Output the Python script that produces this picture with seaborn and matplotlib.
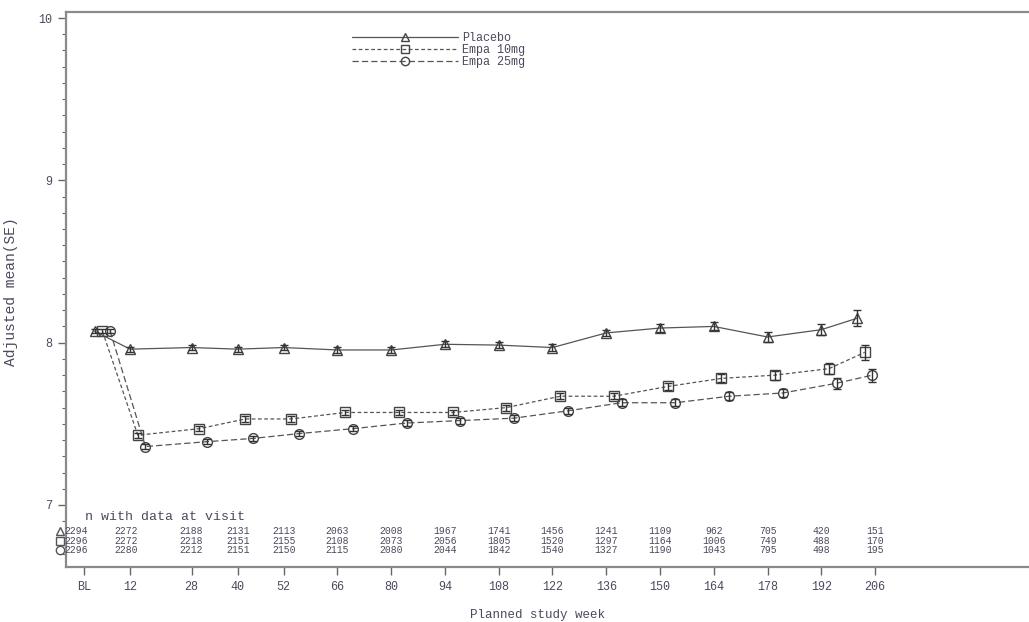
import numpy as np
import pandas as pd
import matplotlib
matplotlib.use("Agg")
import matplotlib.pyplot as plt
import matplotlib.transforms as mtransforms
from matplotlib.lines import Line2D
import seaborn as sns

# Planned visits (tick positions / labels) and mean study week at each visit
visit_weeks = [0, 12, 28, 40, 52, 66, 80, 94, 108, 122, 136, 150, 164, 178, 192, 206]
visit_labels = ["BL", "12", "28", "40", "52", "66", "80", "94", "108", "122",
                "136", "150", "164", "178", "192", "206"]
mean_weeks = [2.8, 12, 28, 40, 52, 66, 80, 94, 108, 122, 136, 150, 164, 178, 192, 201.3]

groups = ["Placebo", "Empa 10mg", "Empa 25mg"]

# Adjusted means
placebo_mean = [8.07, 7.96, 7.97, 7.96, 7.97, 7.955, 7.955, 7.99, 7.985, 7.97,
                8.06, 8.09, 8.10, 8.035, 8.08, 8.15]
empa10_mean = [8.07, 7.43, 7.47, 7.53, 7.53, 7.57, 7.57, 7.57, 7.60, 7.67,
               7.67, 7.73, 7.78, 7.80, 7.84, 7.94]
empa25_mean = [8.07, 7.36, 7.39, 7.41, 7.44, 7.47, 7.505, 7.52, 7.535, 7.58,
               7.63, 7.63, 7.67, 7.69, 7.75, 7.80]

# Standard errors
placebo_se = [0.012, 0.015, 0.016, 0.016, 0.016, 0.017, 0.017, 0.018, 0.018, 0.019,
              0.021, 0.023, 0.025, 0.028, 0.034, 0.050]
empa10_se = [0.012, 0.015, 0.016, 0.016, 0.016, 0.017, 0.017, 0.018, 0.018, 0.019,
             0.020, 0.022, 0.025, 0.027, 0.033, 0.045]
empa25_se = [0.012, 0.015, 0.016, 0.016, 0.016, 0.017, 0.017, 0.018, 0.018, 0.019,
             0.020, 0.022, 0.024, 0.026, 0.034, 0.040]

# Patients with data at visit
placebo_n = [2294, 2272, 2188, 2131, 2113, 2063, 2008, 1967, 1741, 1456, 1241, 1109, 962, 705, 420, 151]
empa10_n = [2296, 2272, 2218, 2151, 2155, 2108, 2073, 2056, 1805, 1520, 1297, 1164, 1006, 749, 488, 170]
empa25_n = [2296, 2280, 2212, 2151, 2150, 2115, 2080, 2044, 1842, 1540, 1327, 1190, 1043, 795, 498, 195]

means = [placebo_mean, empa10_mean, empa25_mean]
ses = [placebo_se, empa10_se, empa25_se]
counts = [placebo_n, empa10_n, empa25_n]

# horizontal dodge so the three treatment groups do not overlap
dodge = {"Placebo": 0.0, "Empa 10mg": 2.0, "Empa 25mg": 4.0}
markers = {"Placebo": "^", "Empa 10mg": "s", "Empa 25mg": "o"}
dashes = {"Placebo": "", "Empa 10mg": (3, 2), "Empa 25mg": (5, 2.5)}

rows = []
for g, m, s in zip(groups, means, ses):
    for wk, mv, sv in zip(mean_weeks, m, s):
        rows.append({"group": g, "week": wk + dodge[g], "mean": mv, "se": sv})
df = pd.DataFrame(rows)

sns.set_style("ticks")
plt.rcParams["font.family"] = ["Liberation Mono", "DejaVu Sans Mono"]
text_color = "#4a4a5e"
line_color = "#555555"

fig = plt.figure(figsize=(10.29, 6.22), dpi=100)
ax = fig.add_axes([66 / 1029, 1 - 567 / 622, 1 - 66 / 1029, (567 - 12) / 622])

sns.lineplot(data=df, x="week", y="mean", style="group", style_order=groups,
             markers=markers, dashes=dashes, color=line_color, linewidth=0.9,
             markersize=7, markerfacecolor="none", markeredgecolor="#444444",
             markeredgewidth=1.0, estimator=None, sort=False, legend=False, ax=ax)

for g in groups:
    sub = df[df["group"] == g]
    ax.errorbar(sub["week"], sub["mean"], yerr=sub["se"], fmt="none",
                ecolor="#333333", elinewidth=1.0, capsize=3, capthick=1.0)

ax.set_xlim(-4.7, 246.1)
ax.set_ylim(6.618, 10.037)

ax.set_xticks(visit_weeks)
ax.set_xticklabels(visit_labels)
ax.set_yticks([7, 8, 9, 10])
ax.set_yticklabels(["7", "8", "9", "10"])
ax.set_yticks(np.arange(6.7, 10.0, 0.1), minor=True)
ax.tick_params(axis="both", which="major", length=6, width=1, color="#666666",
               labelsize=8.5, labelcolor=text_color, pad=4)
ax.tick_params(axis="y", which="minor", length=3, width=0.8, color="#666666")

for side in ["left", "bottom", "top"]:
    ax.spines[side].set_color("#8a8a8a")
    ax.spines[side].set_linewidth(1.6)
ax.spines["right"].set_visible(False)

ax.set_xlabel("Planned study week", fontsize=9, color=text_color)
ax.set_ylabel("Adjusted mean(SE)", fontsize=10.5, color=text_color)
ax.xaxis.set_label_coords((537 - 66) / 963, -(609 - 567) / 555)
ax.yaxis.set_label_coords((18 - 66) / 963, (567 - 292) / 555)

# legend
handles = []
for g in groups:
    h = Line2D([], [], color=line_color, linewidth=0.9, marker=markers[g],
               markersize=6, markerfacecolor="none", markeredgecolor="#444444",
               linestyle="-" if g == "Placebo" else "--")
    if dashes[g]:
        h.set_dashes(dashes[g])
    handles.append(h)
leg = ax.legend(handles, groups, loc="upper left",
                bbox_to_anchor=((352 - 66) / 963, (567 - 32) / 555),
                frameon=False, fontsize=8.5, handlelength=9.0, handletextpad=0.3,
                labelspacing=0.0, borderpad=0, borderaxespad=0)
for t in leg.get_texts():
    t.set_color(text_color)

# table of patients with data at each visit
trans = mtransforms.blended_transform_factory(ax.transData, ax.transAxes)
ax.text((85 - 66) / 963, (567 - 517) / 555, "n with data at visit",
        transform=ax.transAxes, fontsize=9.5, color=text_color, ha="left", va="center")
row_y = [(567 - 531) / 555, (567 - 541) / 555, (567 - 550) / 555]
table_x = list(visit_weeks)
table_x[0] = -2.0
table_x[1] = 11.0
for g, n_list, y in zip(groups, counts, row_y):
    for x, n in zip(table_x, n_list):
        ax.text(x, y, str(n), transform=trans, fontsize=7, color=text_color,
                ha="center", va="center")
    ax.plot([(60 - 66) / 963], [y], transform=ax.transAxes, marker=markers[g],
            markersize=6, markerfacecolor="none", markeredgecolor="#555555",
            markeredgewidth=1.0, clip_on=False, linestyle="none")

fig.savefig("out.png", dpi=100, facecolor="white")
